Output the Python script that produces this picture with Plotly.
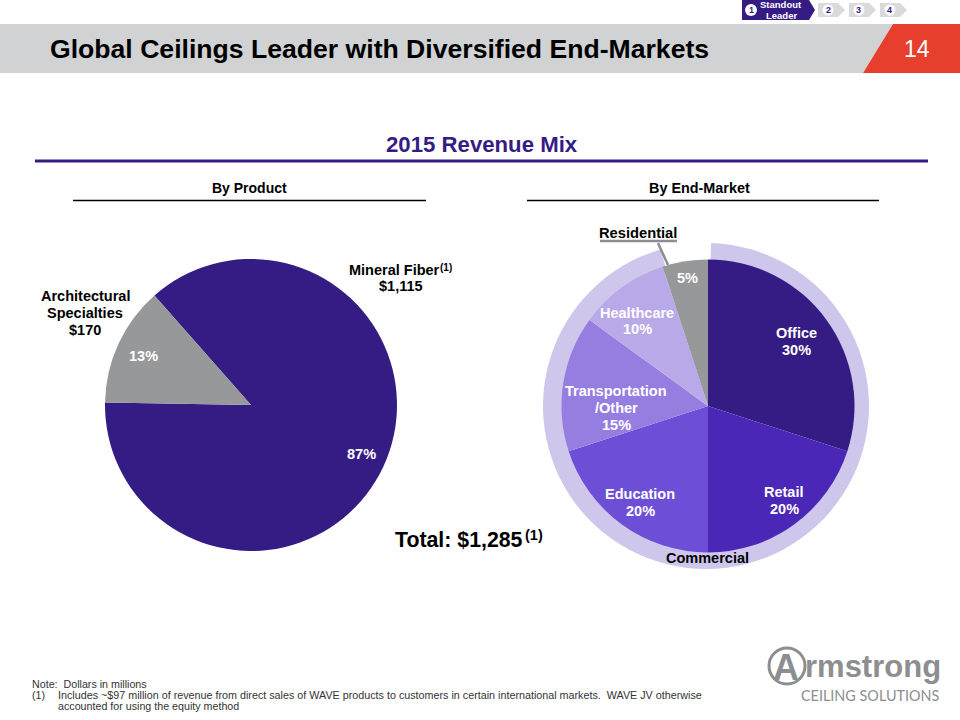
import plotly.graph_objects as go

W, H = 960, 720

# ---- data ----
product_names = ["Mineral Fiber", "Architectural Specialties"]
product_revenue = [1115, 170]
product_colors = ["#351c84", "#97989a"]

market_names = ["Office", "Retail", "Education", "Transportation/Other", "Healthcare", "Residential"]
market_share = [30, 20, 20, 15, 10, 5]
market_colors = ["#351c84", "#4b27b8", "#6c4fd6", "#967ee0", "#b9a9e8", "#97989a"]

ring_names = ["Commercial", "Residential"]
ring_share = [95, 5]
ring_colors = ["#cfc6ec", "rgba(0,0,0,0)"]

white_labels = [
    ("87%", 361, 454), ("13%", 143, 356),
    ("Office", 796, 333), ("30%", 796, 350),
    ("Retail", 784, 492), ("20%", 784, 509),
    ("Education", 640, 494), ("20%", 640, 511),
    ("Transportation", 616, 391), ("/Other", 616, 408), ("15%", 616, 425),
    ("Healthcare", 637, 313), ("10%", 637, 329),
    ("5%", 687, 278),
]
dark_labels = [
    ("Architectural", 85, 296, 14.5), ("Specialties", 85, 313, 14.5), ("$170", 85, 330, 14.5),
    ("Mineral Fiber", 394, 270, 14.5), ("(1)", 446, 267, 10), ("$1,115", 401, 286, 14.5),
    ("Residential", 638, 233, 14.7), ("By Product", 249.5, 188, 14), ("By End-Market", 699, 188, 14.4),
    ("Commercial", 707, 558, 14.5),
]


def px(x):
    return x / W


def py(y):
    return 1 - y / H


def domain(cx, cy, r):
    return dict(x=[px(cx - r), px(cx + r)], y=[py(cy + r), py(cy - r)])


fig = go.Figure()
fig.add_trace(go.Pie(labels=product_names, values=product_revenue, sort=False, direction="clockwise",
                     rotation=318.6, textinfo="none", showlegend=False, hoverinfo="label+percent",
                     marker=dict(colors=product_colors, line=dict(width=0)), domain=domain(251, 405, 146)))
fig.add_trace(go.Pie(labels=ring_names, values=ring_share, sort=False, direction="clockwise",
                     rotation=1.8, hole=0.86, textinfo="none", showlegend=False, hoverinfo="skip",
                     marker=dict(colors=ring_colors, line=dict(width=0)), domain=domain(706, 406, 163)))
fig.add_trace(go.Pie(labels=market_names, values=market_share, sort=False, direction="clockwise",
                     rotation=0, textinfo="none", showlegend=False, hoverinfo="label+percent",
                     marker=dict(colors=market_colors, line=dict(width=0)), domain=domain(708, 406, 146.5)))

FONT = "Liberation Sans"
annotations = []


def note(text, x, y, size, color="#000000", bold=True, anchor="center", family=FONT):
    if bold:
        text = "<b>" + text + "</b>"
    if anchor == "left":
        x -= 2
    annotations.append(dict(text=text, x=px(x), y=py(y), xref="paper", yref="paper", showarrow=False,
                            xanchor=anchor, yanchor="middle", align=anchor,
                            font=dict(family=family, size=size, color=color)))


note("Global Ceilings Leader with Diversified End-Markets", 50, 49, 26.6, anchor="left")
note("14", 917, 49, 23, "#ffffff", bold=False)
note("2015 Revenue Mix", 481.5, 145, 22.2, "#351c84")
note("Total: $1,285", 395, 540, 21.3, anchor="left")
note("(1)", 525, 535, 14.5, anchor="left")

for t, x, y in white_labels:
    note(t, x, y, 14.5, "#ffffff")
for t, x, y, s in dark_labels:
    note(t, x, y, s)

note("Standout", 781, 5, 9.5, "#ffffff")
note("Leader", 781, 15, 9.5, "#ffffff")
for t, x, c in [("1", 751, "#351c84"), ("2", 828, "#351c84"), ("3", 858, "#351c84"), ("4", 889, "#351c84")]:
    note(t, x, 10, 9, c)

note("Note:  Dollars in millions", 32, 684, 10.7, "#333333", bold=False, anchor="left")
note("(1)", 32, 695, 10.7, "#333333", bold=False, anchor="left")
note("Includes ~$97 million of revenue from direct sales of WAVE products to customers in certain international markets.  "
     "WAVE JV otherwise", 58, 695, 10.75, "#333333", bold=False, anchor="left")
note("accounted for using the equity method", 58, 706, 10.7, "#333333", bold=False, anchor="left")

note("A", 786, 667, 36, "#8c8e90")
note("rmstrong", 805, 666, 31, "#8c8e90", anchor="left")
note("CEILING SOLUTIONS", 870.5, 695, 14.4, "#8c8e90", bold=False, family="Lato")


def poly(points, color):
    path = "M " + " L ".join(f"{px(x)} {py(y)}" for x, y in points) + " Z"
    return dict(type="path", path=path, xref="paper", yref="paper", fillcolor=color, line=dict(width=0), layer="below")


def rule(x0, x1, y0, y1, color, w):
    return dict(type="line", x0=px(x0), x1=px(x1), y0=py(y0), y1=py(y1), xref="paper", yref="paper",
                line=dict(color=color, width=w))


def dot(cx, cy, r, color):
    return dict(type="circle", x0=px(cx - r), x1=px(cx + r), y0=py(cy + r), y1=py(cy - r), xref="paper", yref="paper",
                fillcolor=color, line=dict(width=0), layer="below")


shapes = [
    poly([(0, 24), (893, 24), (863, 73), (0, 73)], "#d1d2d4"),
    poly([(893, 24), (960, 24), (960, 73), (863, 73)], "#e63f2e"),
    rule(35, 928, 161, 161, "#351c84", 3),
    rule(73, 426, 200.5, 200.5, "#000000", 1.3),
    rule(527, 879, 200.5, 200.5, "#000000", 1.3),
    rule(600, 677, 241, 241, "#8c8e90", 2.5),
    rule(658, 668, 243, 265, "#8c8e90", 2.5),
    poly([(742, 0), (809, 0), (815, 10), (809, 20), (742, 20)], "#351c84"),
    dot(751, 10, 6, "#ffffff"),
]
for x0 in (818, 849, 880):
    shapes.append(poly([(x0, 3), (x0 + 20, 3), (x0 + 27, 10), (x0 + 20, 17), (x0, 17)], "#d9dadc"))
    shapes.append(dot(x0 + 10, 10, 5.5, "#ffffff"))
shapes.append(dict(type="circle", x0=px(769), x1=px(805), y0=py(684), y1=py(648), xref="paper", yref="paper",
                   line=dict(color="#8c8e90", width=3)))

fig.update_layout(width=W, height=H, margin=dict(l=0, r=0, t=0, b=0), paper_bgcolor="#ffffff",
                  plot_bgcolor="#ffffff", showlegend=False, shapes=shapes, annotations=annotations,
                  font=dict(family=FONT))
fig.write_html("out.html", post_script="document.body.style.margin='0';", config=dict(displayModeBar=False))
